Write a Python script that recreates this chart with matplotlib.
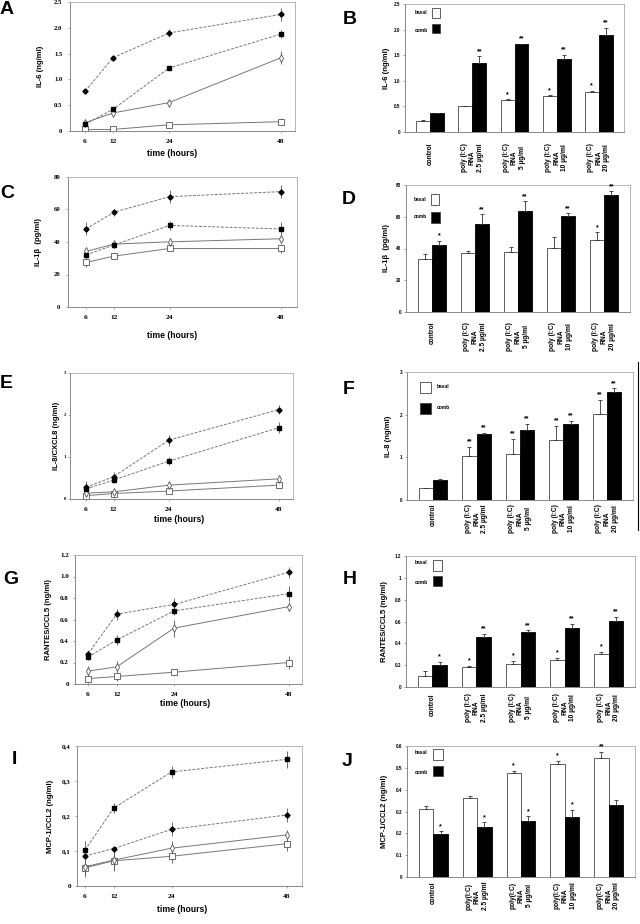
import numpy as np
import matplotlib
matplotlib.use('Agg')
import matplotlib.pyplot as plt
from matplotlib.patches import Rectangle
from matplotlib.lines import Line2D

plt.rcParams['font.family'] = ['Liberation Sans', 'DejaVu Sans']
SERIF = ['Liberation Serif', 'DejaVu Serif']

W, H = 640, 924

# ---------------- data ----------------
hours = [6, 12, 24, 48]
groups = ['control', 'poly (I:C)\nRNA\n2.5 µg/ml', 'poly (I:C)\nRNA\n5 µg/ml',
          'poly (I:C)\nRNA\n10 µg/ml', 'poly (I:C)\nRNA\n20 µg/ml']
groups_j = ['control', 'poly(I:C)\nRNA\n2.5 µg/ml', 'poly(I:C)\nRNA\n5 µg/ml',
            'poly(I:C)\nRNA\n10 µg/ml', 'poly(I:C)\nRNA\n20 µg/ml']
legend_labels = ['basal', 'comb']

# A: IL-6 time course (filled diamond, filled square, open diamond, open square)
a_fd = [0.77, 1.42, 1.90, 2.26];  a_fd_err = [0.03, 0.03, 0.08, 0.13]
a_fs = [0.13, 0.42, 1.22, 1.88];  a_fs_err = [0.03, 0.05, 0.04, 0.08]
a_od = [0.16, 0.35, 0.55, 1.42];  a_od_err = [0.06, 0.05, 0.03, 0.13]
a_os = [0.03, 0.03, 0.12, 0.18];  a_os_err = [0.01, 0.02, 0.05, 0.07]
a_ticks = [0, 0.5, 1.0, 1.5, 2.0, 2.5]
a_ticklabels = ['0', '0.5', '1.0', '1.5', '2.0', '2.5']

# B: IL-6 bars
b_basal = [0.22, 0.50, 0.62, 0.71, 0.78]; b_basal_err = [0.02, 0.01, 0.02, 0.01, 0.03]
b_comb = [0.37, 1.34, 1.71, 1.43, 1.90];  b_comb_err = [0.01, 0.14, 0.01, 0.08, 0.14]
b_basal_sig = ['', '', '*', '*', '*']
b_comb_sig = ['', '**', '**', '**', '**']
b_ticklabels = ['0', '0.5', '1.0', '1.5', '2.0', '2.5']

# C: IL-1beta time course
c_fd = [48, 58.3, 67.9, 71];   c_fd_err = [4, 2, 4, 4]
c_fs = [32.1, 38.1, 50.2, 48]; c_fs_err = [2, 2, 3, 4]
c_od = [34.2, 38.7, 40.1, 42]; c_od_err = [2, 2, 2, 2]
c_os = [27.4, 31.3, 36, 36];   c_os_err = [3, 1, 1, 3]
c_ticks = [0, 20, 40, 60, 80]
c_ticklabels = ['0', '20', '40', '60', '80']

# D: IL-1beta bars
d_basal = [33.7, 37, 37.7, 40.2, 45.2]; d_basal_err = [3, 1.5, 3, 7, 5]
d_comb = [42, 55.6, 63.7, 60.6, 73.6];  d_comb_err = [3, 6, 6, 1.5, 2.5]
d_basal_sig = ['', '', '', '', '*']
d_comb_sig = ['*', '**', '**', '**', '**']
d_ticklabels = ['0', '20', '40', '60', '80']

# E: IL-8/CXCL8 time course
e_fd = [0.28, 0.53, 1.40, 2.13]; e_fd_err = [0.15, 0.12, 0.13, 0.1]
e_fs = [0.24, 0.45, 0.90, 1.70]; e_fs_err = [0.08, 0.08, 0.1, 0.13]
e_od = [0.14, 0.17, 0.33, 0.48]; e_od_err = [0.05, 0.06, 0.08, 0.05]
e_os = [0.08, 0.13, 0.19, 0.33]; e_os_err = [0.04, 0.04, 0.05, 0.08]
e_ticks = [0, 1, 2, 3]
e_ticklabels = ['0', '1', '2', '3']

# F: IL-8 bars
f_basal = [0.27, 1.02, 1.08, 1.41, 2.02]; f_basal_err = [0.01, 0.22, 0.35, 0.33, 0.33]
f_comb = [0.48, 1.55, 1.65, 1.78, 2.52];  f_comb_err = [0.01, 0.02, 0.13, 0.08, 0.1]
f_basal_sig = ['', '**', '**', '**', '**']
f_comb_sig = ['', '**', '**', '**', '**']
f_ticklabels = ['0', '1', '2', '3']

# G: RANTES/CCL5 time course
g_fd = [0.28, 0.65, 0.74, 1.04]; g_fd_err = [0.04, 0.05, 0.06, 0.05]
g_fs = [0.25, 0.41, 0.68, 0.84]; g_fs_err = [0.03, 0.05, 0.04, 0.07]
g_od = [0.12, 0.16, 0.52, 0.72]; g_od_err = [0.05, 0.05, 0.08, 0.04]
g_os = [0.05, 0.07, 0.11, 0.20]; g_os_err = [0.04, 0.04, 0.03, 0.06]
g_ticks = [0, 0.2, 0.4, 0.6, 0.8, 1.0, 1.2]
g_ticklabels = ['0', '0.2', '0.4', '0.6', '0.8', '1.0', '1.2']

# H: RANTES/CCL5 bars
h_basal = [0.10, 0.18, 0.21, 0.245, 0.305]; h_basal_err = [0.045, 0.015, 0.03, 0.02, 0.02]
h_comb = [0.20, 0.46, 0.505, 0.54, 0.605];  h_comb_err = [0.03, 0.03, 0.015, 0.04, 0.04]
h_basal_sig = ['', '*', '*', '*', '*']
h_comb_sig = ['*', '**', '**', '**', '**']
h_ticklabels = ['0', '0.2', '0.4', '0.6', '0.8', '1', '1.2']

# I: MCP-1/CCL2 time course
i_fd = [0.086, 0.107, 0.162, 0.203]; i_fd_err = [0.005, 0.005, 0.02, 0.02]
i_fs = [0.103, 0.223, 0.326, 0.362]; i_fs_err = [0.025, 0.015, 0.018, 0.025]
i_od = [0.055, 0.074, 0.108, 0.146]; i_od_err = [0.02, 0.025, 0.02, 0.015]
i_os = [0.052, 0.072, 0.085, 0.121]; i_os_err = [0.025, 0.03, 0.02, 0.02]
i_ticks = [0, 0.1, 0.2, 0.3, 0.4]
i_ticklabels = ['0', '0,1', '0,2', '0,3', '0,4']

# J: MCP-1/CCL2 bars
j_basal = [0.31, 0.36, 0.477, 0.517, 0.544]; j_basal_err = [0.015, 0.012, 0.01, 0.015, 0.03]
j_comb = [0.198, 0.23, 0.258, 0.273, 0.328]; j_comb_err = [0.012, 0.02, 0.02, 0.035, 0.025]
j_basal_sig = ['', '', '*', '*', '**']
j_comb_sig = ['*', '*', '*', '*', '']
j_ticklabels = ['0', '0.1', '0.2', '0.3', '0.4', '0.5', '0.6']


fig = plt.figure(figsize=(W / 100, H / 100), dpi=100)


def rect(l, t, r, b):
    return [l / W, 1 - b / H, (r - l) / W, (b - t) / H]


def frame(ax):
    for s in ax.spines.values():
        s.set_color('#aaaaaa')
        s.set_linewidth(0.6)
    ax.spines['left'].set_color('#777777')
    ax.spines['bottom'].set_color('#777777')


styles = [
    dict(marker='D', ms=2.6, mfc='black', mec='black', ls=(0, (3, 1.5))),
    dict(marker='s', ms=3.4, mfc='black', mec='black', ls=(0, (3, 1.5))),
    dict(marker='d', ms=4.2, mfc='white', mec='#555555', mew=0.6, ls='-'),
    dict(marker='s', ms=3.8, mfc='white', mec='#555555', mew=0.6, ls='-'),
]


def line_panel(box, x6, x48, series, ymax, ticks, ticklabels, tsize, ypad,
               ylabel, ylab_x, xlab_x, xlab_y):
    l, t, r, b = box
    ax = fig.add_axes(rect(*box))
    for (vals, errs), st in zip(series[::-1], styles[::-1]):
        ax.errorbar(hours, vals, yerr=errs, color='#777777', lw=0.7,
                    ecolor='#555555', elinewidth=0.6, capsize=0, **st)
    # x limits from where the 6 h and 48 h ticks sit in the reference
    k = (x48 - x6) / 42
    ax.set_xlim(6 - (x6 - l) / k, 48 + (r - x48) / k)
    ax.set_ylim(0, ymax)
    ax.set_xticks(hours)
    ax.set_xticklabels([str(h) for h in hours], family=SERIF, fontweight='bold', fontsize=5.3)
    ax.set_yticks(ticks)
    ax.set_yticklabels(ticklabels, family=SERIF, fontweight='bold', fontsize=tsize)
    ax.tick_params(length=1.5, width=0.5, color='#888888', pad=4)
    ax.tick_params(axis='y', pad=ypad)
    frame(ax)
    ax.set_ylabel(ylabel, fontsize=5.5, fontweight='bold', va='center')
    ax.yaxis.set_label_coords((ylab_x - l) / (r - l), 0.5)
    ax.set_xlabel('time (hours)', fontsize=6.2, fontweight='bold', va='center')
    ax.xaxis.set_label_coords((xlab_x - l) / (r - l), -(xlab_y - b) / (b - t))
    return ax


def bar_panel(box, basal, basal_err, comb, comb_err, basal_sig, comb_sig, ymax, ticklabels,
              ylabel, ylab_x, names, gap):
    l, t, r, b = box
    ax = fig.add_axes(rect(*box))
    x = np.arange(len(names))
    w = 0.33
    ekw = dict(ecolor='#333333', elinewidth=0.6, capsize=1.2, capthick=0.6)
    ax.bar(x - w / 2, basal, w, color='white', edgecolor='#444444', lw=0.6,
           yerr=[np.zeros(len(basal)), basal_err], error_kw=ekw)
    ax.bar(x + w / 2, comb, w, color='black', edgecolor='black', lw=0.6,
           yerr=[np.zeros(len(comb)), comb_err], error_kw=ekw)
    for xs, vals, errs, sigs in [(x - w / 2, basal, basal_err, basal_sig),
                                 (x + w / 2, comb, comb_err, comb_sig)]:
        for xi, v, e, s in zip(xs, vals, errs, sigs):
            if s:
                ax.annotate(s, (xi, v + e), xytext=(0, 1), textcoords='offset points',
                            ha='center', va='bottom', fontsize=5, fontweight='bold')
    ax.set_xlim(-0.6, 4.6)
    ax.set_ylim(0, ymax)
    ticks = np.linspace(0, ymax, len(ticklabels))
    ax.set_yticks(ticks)
    ax.set_yticklabels(ticklabels, fontsize=3.3, fontweight='bold')
    ax.set_xticks([])
    ax.tick_params(axis='y', length=1.5, width=0.5, color='#777777', pad=2)
    frame(ax)
    tr = ax.get_xaxis_transform()
    for xi, name in zip(x, names):
        ax.text(xi, -gap / (b - t), name, transform=tr, rotation=90, ha='center', va='top',
                multialignment='center', fontsize=4.8, fontweight='bold', linespacing=1.25)
    ax.set_ylabel(ylabel, fontsize=5.5, fontweight='bold', va='center')
    ax.yaxis.set_label_coords((ylab_x - l) / (r - l), 0.5)
    return ax


def legend(entries):
    # entries: (label, colour, text x, text y, square l, t, r, b) in pixels
    for label, col, tx, ty, sl, st, sr, sb in entries:
        fig.add_artist(Rectangle((sl / W, 1 - sb / H), (sr - sl) / W, (sb - st) / H,
                                 transform=fig.transFigure, facecolor=col,
                                 edgecolor='#444444', lw=0.6))
        fig.text(tx / W, 1 - ty / H, label, fontsize=3.5, fontweight='bold',
                 ha='left', va='center')


def panel_letter(s, x, y):
    fig.text(x / W, 1 - y / H, s, fontsize=14, fontweight='bold', ha='left', va='center')


# ---------------- panels ----------------
line_panel((70, 2, 295, 131), 85, 281,
           [(a_fd, a_fd_err), (a_fs, a_fs_err), (a_od, a_od_err), (a_os, a_os_err)],
           2.5, a_ticks, a_ticklabels, 4.8, 4, 'IL-6 (ng/ml)', 40, 172, 153)
bar_panel((405, 4, 624, 132), b_basal, b_basal_err, b_comb, b_comb_err, b_basal_sig, b_comb_sig,
          2.5, b_ticklabels, 'IL-6 (ng/ml)', 387, groups, 11)
legend([(legend_labels[0], 'white', 415, 13, 432, 8, 440, 18),
        (legend_labels[1], 'black', 415, 30, 432, 24, 440, 33)])

line_panel((68, 177, 297, 307), 86, 281,
           [(c_fd, c_fd_err), (c_fs, c_fs_err), (c_od, c_od_err), (c_os, c_os_err)],
           80, c_ticks, c_ticklabels, 4.8, 4, 'IL-1β  (pg/ml)', 39, 172, 335)
bar_panel((406, 185, 630, 312), d_basal, d_basal_err, d_comb, d_comb_err, d_basal_sig, d_comb_sig,
          80, d_ticklabels, 'IL-1β  (pg/ml)', 386, groups, 10)
legend([(legend_labels[0], 'white', 414, 199, 431, 194, 439, 205),
        (legend_labels[1], 'black', 414, 217, 431, 212, 440, 223)])

line_panel((70, 373, 293, 499), 86, 279,
           [(e_fd, e_fd_err), (e_fs, e_fs_err), (e_od, e_od_err), (e_os, e_os_err)],
           3, e_ticks, e_ticklabels, 3.5, 1.5, 'IL-8/CXCL8 (ng/ml)', 56, 179, 520)
bar_panel((407, 372, 633, 500), f_basal, f_basal_err, f_comb, f_comb_err, f_basal_sig, f_comb_sig,
          3, f_ticklabels, 'IL-8 (ng/ml)', 389, groups, 4)
legend([(legend_labels[0], 'white', 437, 387, 420, 382, 431, 393),
        (legend_labels[1], 'black', 437, 408, 420, 403, 431, 414)])
fig.add_artist(Line2D([638 / W, 638 / W], [1 - 362 / H, 1 - 530 / H],
                      transform=fig.transFigure, color='black', lw=0.8))

line_panel((75, 555, 302, 684), 88, 289,
           [(g_fd, g_fd_err), (g_fs, g_fs_err), (g_od, g_od_err), (g_os, g_os_err)],
           1.2, g_ticks, g_ticklabels, 5, 3, 'RANTES/CCL5 (ng/ml)', 48, 185, 704)
bar_panel((406, 556, 635, 687), h_basal, h_basal_err, h_comb, h_comb_err, h_basal_sig, h_comb_sig,
          1.2, h_ticklabels, 'RANTES/CCL5 (ng/ml)', 385, groups, 6)
legend([(legend_labels[0], 'white', 415, 563, 433, 560, 442, 571),
        (legend_labels[1], 'black', 415, 582, 433, 576, 442, 586)])

line_panel((77, 746, 302, 886), 85, 287,
           [(i_fd, i_fd_err), (i_fs, i_fs_err), (i_od, i_od_err), (i_os, i_os_err)],
           0.4, i_ticks, i_ticklabels, 5, 3, 'MCP-1/CCL2 (ng/ml)', 50, 182, 910)
bar_panel((407, 746, 635, 877), j_basal, j_basal_err, j_comb, j_comb_err, j_basal_sig, j_comb_sig,
          0.6, j_ticklabels, 'MCP-1/CCL2 (ng/ml)', 385, groups_j, 5)
legend([(legend_labels[0], 'white', 415, 753, 433, 749, 443, 760),
        (legend_labels[1], 'black', 415, 772, 433, 766, 443, 776)])

for s, x, y in [('A', 0, 10), ('B', 343, 19), ('C', 0, 193), ('D', 342, 200), ('E', 0, 383),
                ('F', 343, 390), ('G', 3, 580), ('H', 343, 580), ('I', 12, 759), ('J', 342, 762)]:
    panel_letter(s, x, y)

fig.savefig('out.png', dpi=100)
